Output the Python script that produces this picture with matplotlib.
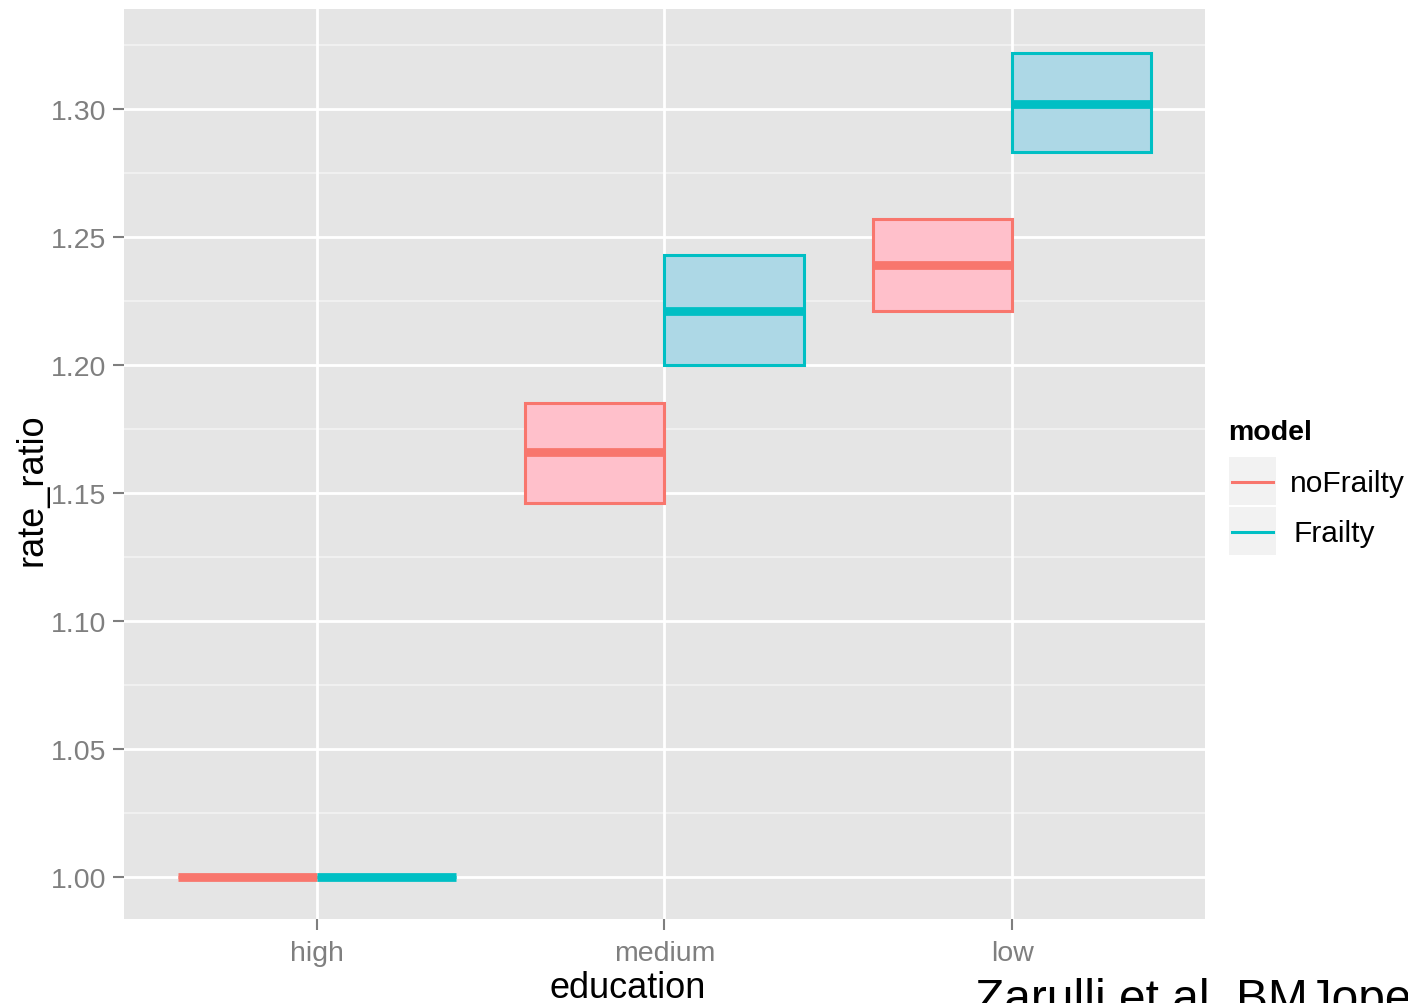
import matplotlib
matplotlib.use('Agg')
import matplotlib.pyplot as plt
import numpy as np
from matplotlib.patches import Rectangle
from matplotlib.lines import Line2D

plt.rcParams['font.family'] = ['Liberation Sans', 'DejaVu Sans']

# data
education = ['high', 'medium', 'low']
models = ['noFrailty', 'Frailty']
nofrailty_mid = [1.000, 1.166, 1.239]
nofrailty_low = [1.000, 1.146, 1.221]
nofrailty_high = [1.000, 1.185, 1.257]
frailty_mid = [1.000, 1.221, 1.302]
frailty_low = [1.000, 1.200, 1.283]
frailty_high = [1.000, 1.243, 1.322]
y_ticks = [1.00, 1.05, 1.10, 1.15, 1.20, 1.25, 1.30]

# ggplot-ish colours
line_cols = {'noFrailty': '#F8766D', 'Frailty': '#00BFC4'}
fill_cols = {'noFrailty': '#FFC0CB', 'Frailty': '#ADD8E6'}
panel_bg = '#E5E5E5'
tick_grey = '#7F7F7F'

W, H = 1408, 1004
fig = plt.figure(figsize=(W / 100, H / 100), dpi=100)
ax = fig.add_axes([124 / W, 1 - 920 / H, (1205 - 124) / W, (920 - 10) / H])
ax.set_facecolor(panel_bg)

x = np.arange(len(education)) + 1
ax.set_xlim(0.445, 3.555)
ax.set_ylim(0.9836, 1.339)

# grid
minor = np.arange(0.975, 1.34, 0.05)
for m in minor:
    ax.axhline(m, color='#F2F2F2', lw=1.3, zorder=0.5)
for t in y_ticks:
    ax.axhline(t, color='white', lw=2.0, zorder=0.6)
for xi in x:
    ax.axvline(xi, color='white', lw=2.0, zorder=0.6)

series = [
    ('noFrailty', -0.2, nofrailty_low, nofrailty_mid, nofrailty_high),
    ('Frailty', 0.2, frailty_low, frailty_mid, frailty_high),
]
width = 0.4
for name, off, lo, mid, hi in series:
    lo = np.array(lo)
    hi = np.array(hi)
    ax.bar(x + off, hi - lo, bottom=lo, width=width,
           facecolor=fill_cols[name], edgecolor=line_cols[name],
           linewidth=2.2, zorder=2)
    ax.hlines(mid, x + off - width / 2, x + off + width / 2,
              color=line_cols[name], linewidth=6.3, zorder=3)

for s in ax.spines.values():
    s.set_visible(False)

ax.set_xticks(x)
ax.set_xticklabels(education)
ax.set_yticks(y_ticks)
ax.set_yticklabels(['%.2f' % t for t in y_ticks])
ax.tick_params(axis='both', colors=tick_grey, labelcolor=tick_grey,
               labelsize=20.5, length=8, width=1.5)
ax.tick_params(axis='x', pad=7)
ax.tick_params(axis='y', pad=5)


def px(xp, yp):
    return xp / W, 1 - yp / H


# axis titles sit a bit off-centre in the original
fig.text(*px(628, 998), 'education', fontsize=26, ha='center', va='baseline')
fig.text(*px(32, 490), 'rate_ratio', fontsize=26, rotation=90,
         ha='center', va='center')

# legend drawn by hand, in pixel coords
fig.text(*px(1228, 433), 'model', fontsize=20.5, fontweight='bold',
         ha='left', va='center')
key_tops = [458, 508]
label_x = [1290, 1293]
for name, top, lx in zip(models, key_tops, label_x):
    x0, y0 = px(1229, top + 48)
    fig.add_artist(Rectangle((x0, y0), 47 / W, 48 / H, transform=fig.transFigure,
                             facecolor='#F2F2F2', edgecolor='none'))
    lx0, ly = px(1232, top + 25)
    lx1, _ = px(1273, top + 25)
    fig.add_artist(Line2D([lx0, lx1], [ly, ly], transform=fig.transFigure,
                          color=line_cols[name], lw=2.2))
    fig.text(*px(lx, top + 26), name, fontsize=21.5, ha='left', va='center')

# citation, cut by the bottom edge like the original
fig.text(975 / W, -0.009, 'Zarulli et al. BMJopen', fontsize=34.5,
         ha='left', va='baseline')

fig.savefig('out.png', dpi=100, facecolor='white')
